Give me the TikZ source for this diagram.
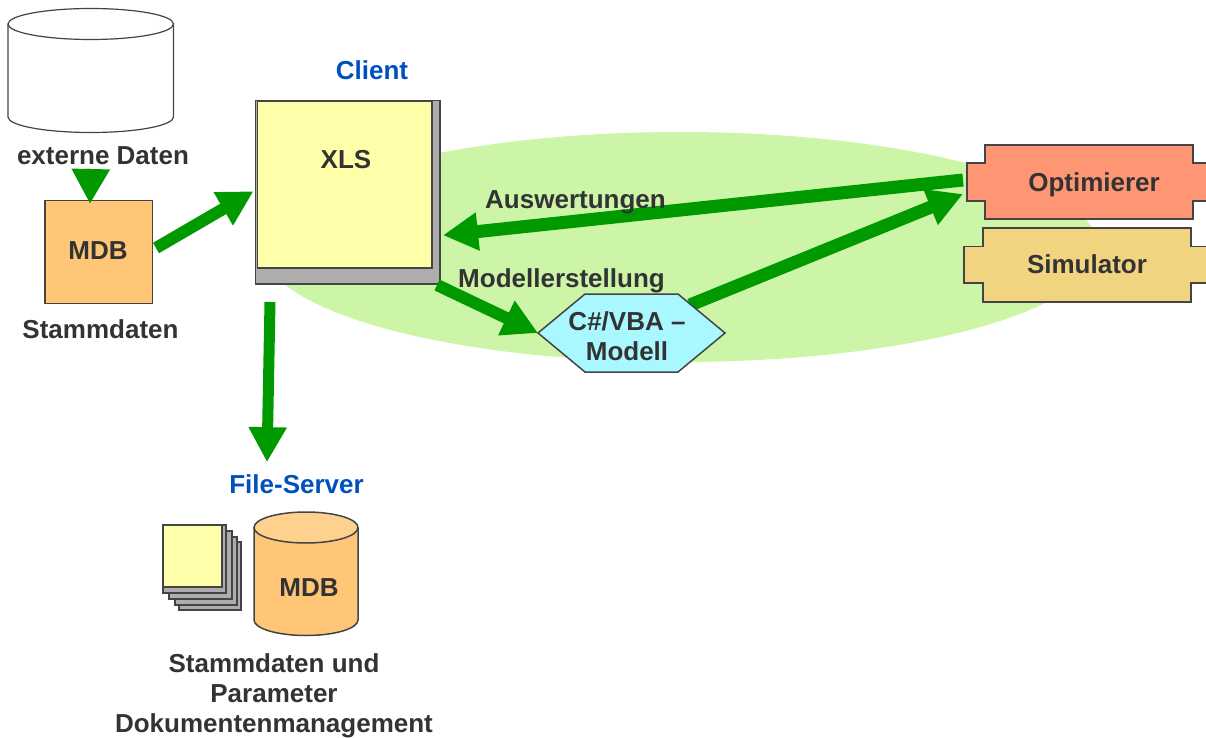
\documentclass[tikz,border=0pt]{standalone}
\usepackage{fontspec}
\setmainfont{Liberation Sans}
\usetikzlibrary{arrows.meta,shapes.geometric}
\definecolor{txt}{HTML}{333333}
\definecolor{bluet}{HTML}{0050C0}
\definecolor{grn}{HTML}{009900}
\definecolor{lgrn}{HTML}{CCF5A8}
\definecolor{edge}{HTML}{444444}
\definecolor{orng}{HTML}{FFC677}
\definecolor{orngt}{HTML}{FFD18F}
\definecolor{ylw}{HTML}{FFFFAA}
\definecolor{gry}{HTML}{ADADAD}
\definecolor{cyanf}{HTML}{AAF8FF}
\definecolor{salm}{HTML}{FF9673}
\definecolor{sand}{HTML}{F0D480}
\tikzset{
 lbl/.style={font=\fontsize{26}{30}\selectfont\bfseries,text=txt,anchor=base,inner sep=0pt,align=center,yshift=-1.2pt},
 blbl/.style={lbl,text=bluet},
 shp/.style={draw=edge,line width=1.5pt,line join=miter},
 anchorbox/.style={inner sep=0pt,outer sep=0pt},
 conn/.style={draw=grn,line width=#1,-{Triangle[length=35pt,width=36pt]}},
 conn/.default=12pt
}
\begin{document}
\begin{tikzpicture}[x=1pt,y=-1pt]
\useasboundingbox (0,0) rectangle (1206,738);
\clip (0,0) rectangle (1206,738);
% green ellipse
\node[anchorbox,fill=lgrn,ellipse,minimum width=836pt,minimum height=230pt] (zone) at (680,247) {};
% external cylinder
\draw[draw=edge,line width=1.2pt,fill=white] (8,24) -- (8,117) arc[start angle=180,end angle=360,x radius=82.75pt,y radius=15.5pt] -- (173.5,24);
\draw[draw=edge,line width=1.2pt,fill=white] (90.75,24) ellipse[x radius=82.75pt,y radius=15.5pt];
\node[anchorbox,minimum width=165pt,minimum height=124pt] (ext) at (90.75,70) {};
% MDB square
\node[shp,fill=orng,anchorbox,minimum width=107.5pt,minimum height=103pt] (mdb) at (98.75,252) {};
% client
\node[shp,fill=gry,anchorbox,minimum width=184.5pt,minimum height=183.5pt] (client) at (347.75,192.25) {};
\node[shp,fill=ylw,anchorbox,minimum width=174.5pt,minimum height=167pt] (xls) at (344.75,184.5) {};
% hexagon and plaques: reference boxes
\node[anchorbox,minimum width=187pt,minimum height=78pt] (hex) at (631.5,333) {};
\node[anchorbox,minimum width=244pt,minimum height=74pt] (opt) at (1089,182) {};
\node[anchorbox,minimum width=245pt,minimum height=74pt] (sim) at (1086.5,265) {};
% file server
\node[blbl] (filel) at (296.5,492) {File-Server};
\node[shp,fill=gry,anchorbox,minimum width=62pt,minimum height=68pt] (s4) at (210,576) {};
\node[shp,fill=gry,anchorbox,minimum width=62pt,minimum height=68pt] (s3) at (206,571) {};
\node[shp,fill=gry,anchorbox,minimum width=63pt,minimum height=68pt] (s2) at (200.5,565) {};
\node[shp,fill=gry,anchorbox,minimum width=63pt,minimum height=68pt] (s1) at (194.5,559) {};
\node[shp,fill=ylw,anchorbox,minimum width=59pt,minimum height=62pt] (s0) at (192.5,556) {};
\draw[shp,fill=orng] (254,527.5) -- (254,620) arc[start angle=180,end angle=360,x radius=52pt,y radius=15.5pt] -- (358,527.5);
\draw[shp,fill=orngt] (306,527.5) ellipse[x radius=52pt,y radius=15.5pt];
% connector behind hexagon
\draw[conn=13pt] ([shift={(-35,11)}]hex.north east) -- ([shift={(-4,12)}]opt.west);
\draw[shp,fill=cyanf] (538,333) -- (585,294) -- (678,294) -- (725,333) -- (678,372) -- (585,372) -- cycle;
\draw[shp,fill=salm] (967,163) -- (985,163) -- (985,145) -- (1193,145) -- (1193,163) -- (1211,163) -- (1211,201) -- (1193,201) -- (1193,219) -- (985,219) -- (985,201) -- (967,201) -- cycle;
\draw[shp,fill=sand] (964,246.5) -- (983,246.5) -- (983,228) -- (1191,228) -- (1191,246.5) -- (1209,246.5) -- (1209,283) -- (1191,283) -- (1191,302) -- (983,302) -- (983,283) -- (964,283) -- cycle;
% connectors
\draw[conn=12pt] ([shift={(0,37)}]ext.south) -- ([shift={(-8.75,3.5)}]mdb.north);
\draw[conn=12pt] ([shift={(3.5,-4)}]mdb.east) -- ([shift={(-2,-1)}]client.west);
\draw[conn=11pt] ([shift={(14.5,18)}]client.south west) -- ([shift={(-29.5,-12)}]filel.north);
\draw[conn=13pt] ([shift={(-4,-2)}]opt.west) -- ([shift={(3,43)}]client.east);
\draw[conn=12pt] ([shift={(-3,1)}]client.south east) -- (hex.west);
% labels on top
\node[lbl] (extl) at (103,163) {externe Daten};
\node[lbl] (mdbl) at (98,258.5) {MDB};
\node[lbl] (staml) at (100.5,337.5) {Stammdaten};
\node[lbl] (xlsl) at (346,167) {XLS};
\node[blbl] (clientl) at (372,78.5) {Client};
\node[lbl] (fmdb) at (309,595) {MDB};
\node[lbl] (stam2) at (274,671) {Stammdaten und};
\node[lbl] (param) at (274,701) {Parameter};
\node[lbl] (doku) at (274,731) {Dokumentenmanagement};
\node[lbl] (optl) at (1094,190) {Optimierer};
\node[lbl] (siml) at (1087,272) {Simulator};
\node[lbl] (hexl1) at (627,329) {C\#/VBA –};
\node[lbl] (hexl2) at (627,359) {Modell};
\node[lbl] (ausw) at (575.5,207) {Auswertungen};
\node[lbl] (modl) at (561.5,286) {Modellerstellung};
\end{tikzpicture}
\end{document}
